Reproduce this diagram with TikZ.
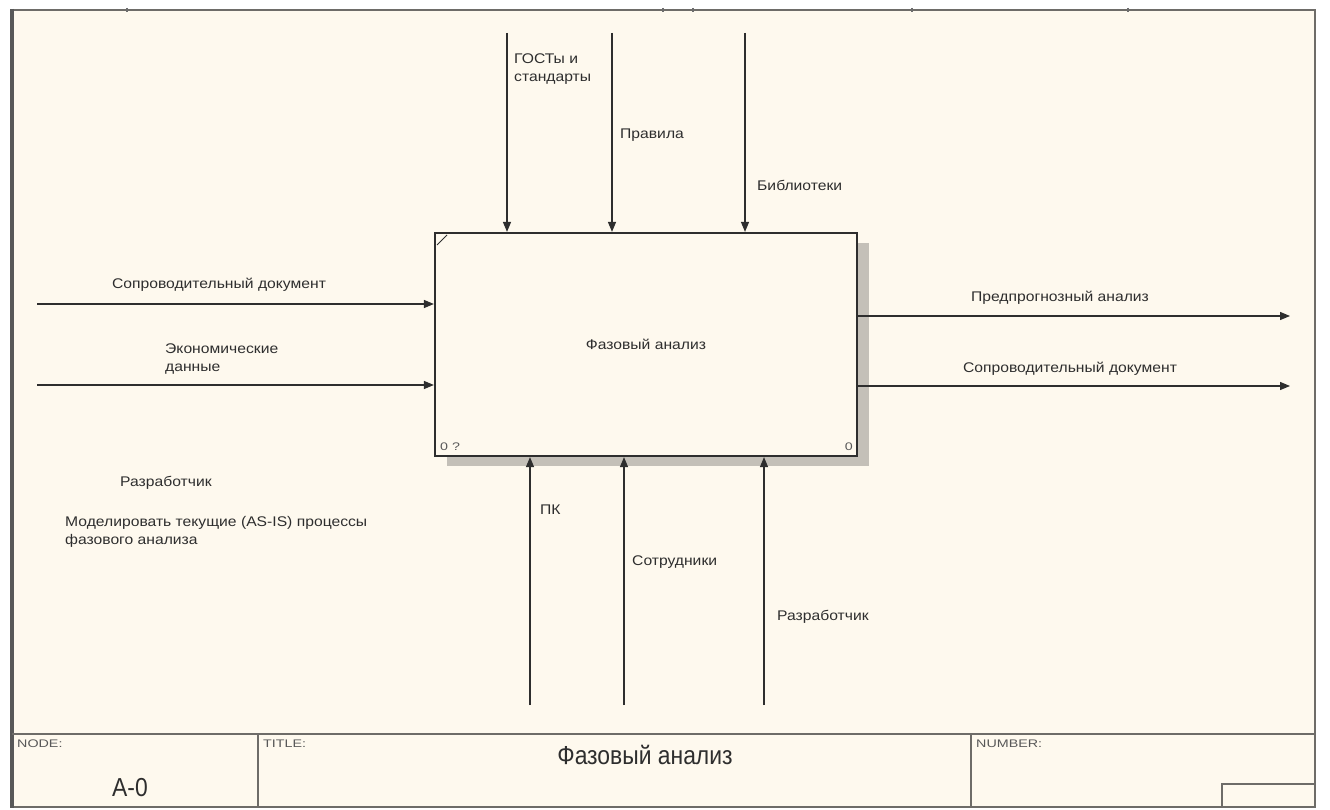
\documentclass[tikz,border=0pt]{standalone}
\usepackage{fontspec}
\setmainfont{Liberation Sans}
\newfontfamily\widefont[FakeStretch=1.12]{Liberation Sans}
\newfontfamily\headfont[FakeStretch=1.3]{Liberation Sans}
\newfontfamily\narrowfont[FakeStretch=0.88]{Liberation Sans}
\usetikzlibrary{arrows.meta}
\definecolor{paper}{HTML}{FEF9EE}
\definecolor{ink}{HTML}{2E2E2E}
\definecolor{rule}{HTML}{6E6C68}
\definecolor{shadowgray}{HTML}{C4C0B8}
\tikzset{
  lbl/.style={text=ink, font=\widefont\fontsize{14}{18}\selectfont, inner sep=0pt, align=left},
  small/.style={text=ink!80, font=\headfont\fontsize{11}{12}\selectfont, inner sep=0pt},
  big/.style={text=ink, font=\narrowfont\fontsize{26}{28}\selectfont, inner sep=0pt},
  arc/.style={draw=ink, line width=1.3pt, -{Triangle[length=10pt,width=8pt]}},
  activity/.style={draw=ink, line width=2.2pt, fill=paper, minimum width=422pt,
    minimum height=223pt, inner sep=0pt, text=ink, font=\widefont\fontsize{14}{18}\selectfont},
  block/.style={draw=rule, line width=2pt}
}
\begin{document}
\begin{tikzpicture}[x=1pt, y=-1pt]
\useasboundingbox (0,0) rectangle (1330,810);
\fill[white] (0,0) rectangle (1330,810);
% sheet
\fill[paper] (12,10) rectangle (1315,807);
\draw[rule, line width=2.5pt] (12,10) -- (1315,10) -- (1315,807) -- (12,807);
\draw[ink!80, line width=3.5pt] (12,9) -- (12,808);
% ticks on the top rule
\foreach \tx in {127,663,693,912,1128}
  \draw[ink!70, line width=1.5pt] (\tx,8) -- (\tx,12);

% activity box with its shadow
\fill[shadowgray] (447,243) rectangle (869,466);
\node[activity] (act) at (646,344.5) {Фазовый анализ};
\draw[ink, line width=1pt] (437,245) -- (447,235);
\node[small, anchor=south west] (num) at (440,451) {0 ?};
\node[small, anchor=south east] (cost) at (853,451) {0};

% controls
\coordinate (c1) at (507,33);
\coordinate (c2) at (612,33);
\coordinate (c3) at (745,33);
\draw[arc] (c1) -- (c1 |- act.north);
\draw[arc] (c2) -- (c2 |- act.north);
\draw[arc] (c3) -- (c3 |- act.north);
\node[lbl, anchor=north west] (lc1) at (514,54) {ГОСТы и\\стандарты};
\node[lbl, anchor=west] (lc2) at (620,135) {Правила};
\node[lbl, anchor=west] (lc3) at (757,185) {Библиотеки};

% inputs
\coordinate (i1) at (37,304);
\coordinate (i2) at (37,385);
\draw[arc] (i1) -- (i1 -| act.west);
\draw[arc] (i2) -- (i2 -| act.west);
\node[lbl] (li1) at (219,285) {Сопроводительный документ};
\node[lbl, anchor=north west] (li2) at (165,344) {Экономические\\данные};

% outputs
\coordinate (o1) at (1290,316);
\coordinate (o2) at (1290,386);
\draw[arc] (o1 -| act.east) -- (o1);
\draw[arc] (o2 -| act.east) -- (o2);
\node[lbl] (lo1) at (1060,298) {Предпрогнозный анализ};
\node[lbl] (lo2) at (1070,369) {Сопроводительный документ};

% mechanisms
\coordinate (m1) at (530,705);
\coordinate (m2) at (624,705);
\coordinate (m3) at (764,705);
\draw[arc] (m1) -- (m1 |- act.south);
\draw[arc] (m2) -- (m2 |- act.south);
\draw[arc] (m3) -- (m3 |- act.south);
\node[lbl, anchor=west] (lm1) at (540,510) {ПК};
\node[lbl, anchor=west] (lm2) at (632,562) {Сотрудники};
\node[lbl, anchor=west] (lm3) at (777,617) {Разработчик};

% author and purpose
\node[lbl, anchor=west] (author) at (120,483) {Разработчик};
\node[lbl, anchor=north west] (purpose) at (65,516) {Моделировать текущие (AS-IS) процессы\\фазового анализа};

% title block
\draw[block] (12,734) -- (1315,734);
\draw[block] (258,734) -- (258,807);
\draw[block] (971,734) -- (971,807);
\draw[block] (1222,807) -- (1222,784) -- (1315,784);
\node[small, anchor=north west] (nodehd) at (17,740) {NODE:};
\node[small, anchor=north west] (titlehd) at (263,740) {TITLE:};
\node[small, anchor=north west] (numhd) at (976,740) {NUMBER:};
\node[big] (nodeno) at (130,788) {A-0};
\node[big] (title) at (645,755) {Фазовый анализ};
\end{tikzpicture}
\end{document}
